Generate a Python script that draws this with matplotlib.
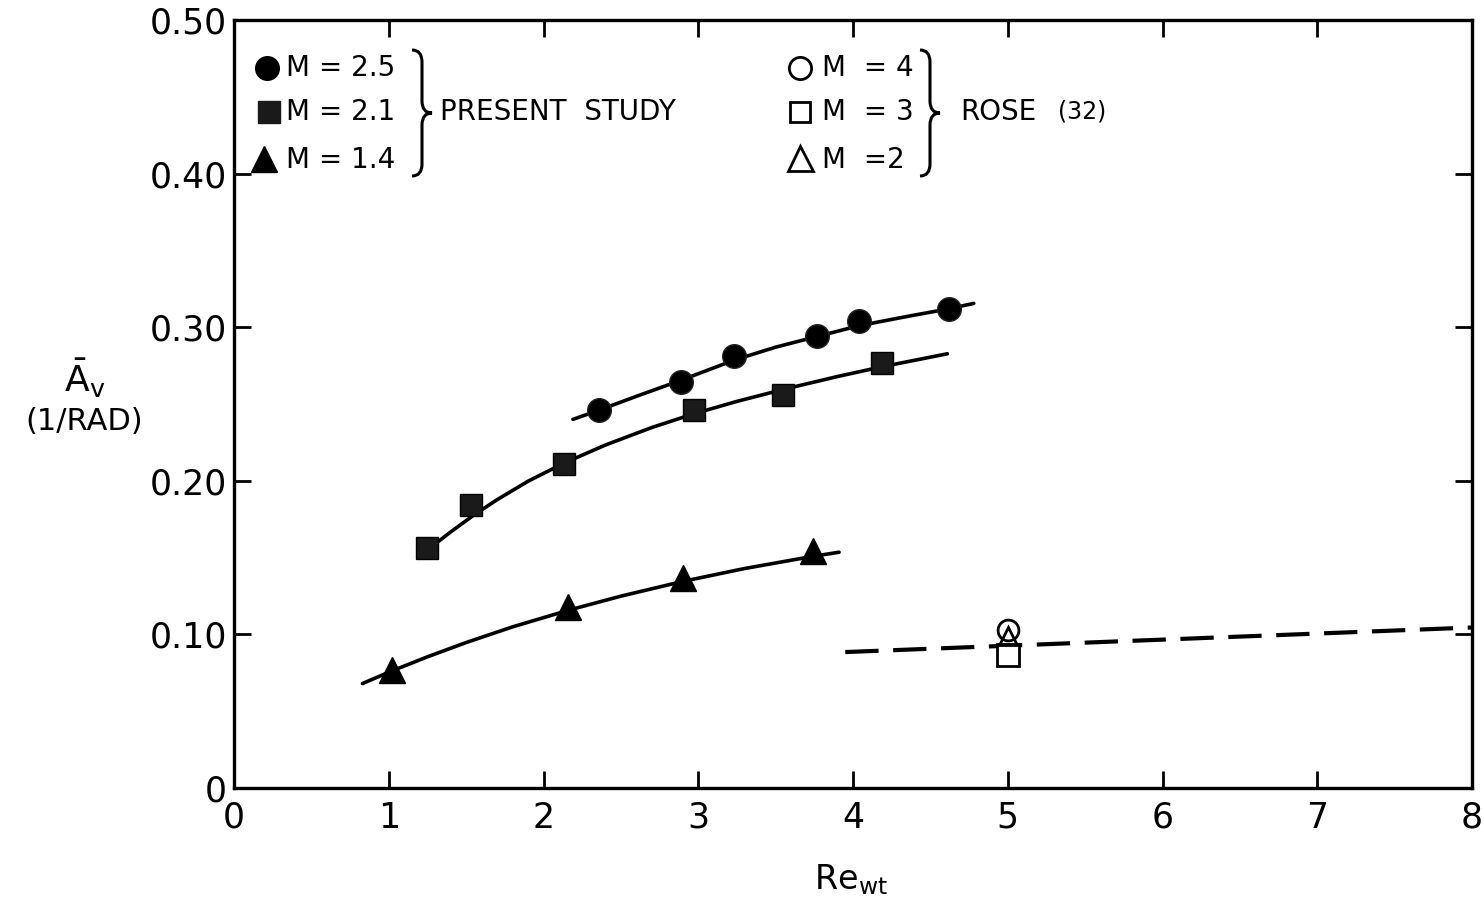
import matplotlib
matplotlib.use("Agg")
from matplotlib import pyplot as plt
from matplotlib.path import Path
from matplotlib.patches import PathPatch
from matplotlib.transforms import Affine2D

plt.rcParams['font.family'] = ['DejaVu Sans']
plt.rcParams['mathtext.fontset'] = 'dejavusans'

# Data

# present study, M = 2.5 (filled circles)
m25_x = [2.36, 2.89, 3.23, 3.77, 4.04, 4.62]
m25_y = [0.246, 0.264, 0.281, 0.294, 0.304, 0.312]
m25_curve_x = [2.19, 2.36, 2.6, 2.89, 3.23, 3.5, 3.77, 4.04, 4.35, 4.62, 4.78]
m25_curve_y = [0.240, 0.246, 0.255, 0.2655, 0.2785, 0.287, 0.294, 0.301, 0.307, 0.312, 0.3155]

# present study, M = 2.1 (filled squares)
m21_x = [1.25, 1.53, 2.13, 2.97, 3.55, 4.19]
m21_y = [0.156, 0.184, 0.211, 0.246, 0.256, 0.277]
m21_curve_x = [1.25, 1.4, 1.55, 1.7, 1.9, 2.13, 2.4, 2.7, 2.97, 3.25, 3.55, 3.9, 4.19, 4.61]
m21_curve_y = [0.155, 0.1667, 0.1777, 0.1877, 0.1997, 0.2114, 0.2233, 0.2347, 0.2436,
               0.2517, 0.2595, 0.2679, 0.2743, 0.2827]

# present study, M = 1.4 (filled triangles)
m14_x = [1.02, 2.16, 2.90, 3.74]
m14_y = [0.0765, 0.118, 0.137, 0.154]
m14_curve_x = [0.83, 1.02, 1.25, 1.5, 1.8, 2.16, 2.5, 2.90, 3.3, 3.74, 3.91]
m14_curve_y = [0.068, 0.0762, 0.0854, 0.0947, 0.1049, 0.1157, 0.1249, 0.1345, 0.1429,
               0.1508, 0.1535]

# Rose (32)
rose_m4 = (5.0, 0.103)
rose_m3 = (5.0, 0.0866)
rose_m2 = (5.0, 0.099)
rose_line_x = [3.95, 8.0]
rose_line_y = [0.0885, 0.1045]

x_ticks = [0, 1, 2, 3, 4, 5, 6, 7, 8]
x_tick_labels = ["0", "1", "2", "3", "4", "5", "6", "7", "8"]
y_ticks = [0, 0.1, 0.2, 0.3, 0.4, 0.5]
y_tick_labels = ["0", "0.10", "0.20", "0.30", "0.40", "0.50"]

W, H = 1484, 909
fig = plt.figure(figsize=(W / 100, H / 100), dpi=100)
ax = fig.add_axes([234 / W, 1 - 788 / H, (1472 - 234) / W, (788 - 20) / H])

# pixel transform (reference picture coordinates) for the hand-drawn legend
px = Affine2D().scale(1 / W, -1 / H).translate(0, 1) + fig.transFigure

lw = 2.6
ax.plot(m25_curve_x, m25_curve_y, color='black', lw=lw, solid_capstyle='round')
ax.plot(m21_curve_x, m21_curve_y, color='black', lw=lw, solid_capstyle='round')
ax.plot(m14_curve_x, m14_curve_y, color='black', lw=lw, solid_capstyle='round')
ax.plot(rose_line_x, rose_line_y, color='black', lw=3.0, dashes=(8, 3.5), clip_on=False)

ax.plot(m25_x, m25_y, 'o', color='black', ms=17, mec='#222222')
ax.plot(m21_x, m21_y, 's', color='#1a1a1a', ms=16, mec='black')
ax.plot(m14_x, m14_y, '^', color='black', ms=19)

ax.plot(*rose_m3, 's', mfc='white', mec='black', ms=16, mew=2)
ax.plot(*rose_m4, 'o', mfc='white', mec='black', ms=15, mew=2)
ax.plot(*rose_m2, '^', mfc='none', mec='black', ms=13, mew=2)

ax.set_xlim(0, 8)
ax.set_ylim(0, 0.5)
ax.set_xticks(x_ticks)
ax.set_xticklabels(x_tick_labels)
ax.set_yticks(y_ticks)
ax.set_yticklabels(y_tick_labels)
ax.tick_params(direction='in', length=12, width=2, top=True, right=True,
               labelsize=25)
ax.tick_params(axis='x', pad=9)
ax.tick_params(axis='y', pad=5)
for s in ax.spines.values():
    s.set_linewidth(2.4)

# axis labels
fig.text(85 / W, 1 - 378 / H, r'$\bar{\mathregular{A}}_{\mathregular{v}}$',
         fontsize=26, ha='center', va='center')
fig.text(84 / W, 1 - 421 / H, '(1/RAD)', fontsize=22, ha='center', va='center')
fig.text(851 / W, 1 - 880 / H, r'Re$_{\mathregular{wt}}$', fontsize=24,
         ha='center', va='center')

# legend
fs = 20
ax.plot(267, 68, 'o', color='black', ms=17, transform=px, clip_on=False)
ax.plot(269, 112, 's', color='#1a1a1a', ms=16, transform=px, clip_on=False)
ax.plot(264, 159, '^', color='black', ms=19, transform=px, clip_on=False)
for y, t in [(68, "M = 2.5"), (112, "M = 2.1"), (160, "M = 1.4")]:
    ax.text(286, y, t, fontsize=fs, ha='left', va='center', transform=px)
ax.text(440, 112, "PRESENT  STUDY", fontsize=fs, ha='left', va='center', transform=px)

ax.plot(800, 68, 'o', mfc='white', mec='black', ms=16, mew=2, transform=px, clip_on=False)
ax.plot(800, 112, 's', mfc='white', mec='black', ms=15, mew=2, transform=px, clip_on=False)
ax.plot(800, 158, '^', mfc='white', mec='black', ms=18, mew=2, transform=px, clip_on=False)
for y, t in [(68, "M  = 4"), (112, "M  = 3"), (160, "M  =2")]:
    ax.text(822, y, t, fontsize=fs, ha='left', va='center', transform=px)
ax.text(960, 112, "ROSE", fontsize=fs, ha='left', va='center', transform=px)
ax.text(1058, 112, "(32)", fontsize=17, ha='left', va='center', transform=px)


def brace(x0, y0, y1, w):
    ym = (y0 + y1) / 2
    xm = x0 + w / 2
    r = w * 0.6
    verts = [(x0, y0), (xm, y0), (xm, y0 + r),
             (xm, ym - r), (xm, ym), (x0 + w, ym),
             (xm, ym), (xm, ym + r),
             (xm, y1 - r), (xm, y1), (x0, y1)]
    codes = [Path.MOVETO, Path.CURVE3, Path.CURVE3,
             Path.LINETO, Path.CURVE3, Path.CURVE3,
             Path.CURVE3, Path.CURVE3,
             Path.LINETO, Path.CURVE3, Path.CURVE3]
    patch = PathPatch(Path(verts, codes), fill=False, lw=2.2, color='black',
                      transform=px, clip_on=False)
    fig.add_artist(patch)


brace(412, 50, 176, 20)
brace(920, 50, 176, 20)

plt.savefig('out.png', dpi=100)
